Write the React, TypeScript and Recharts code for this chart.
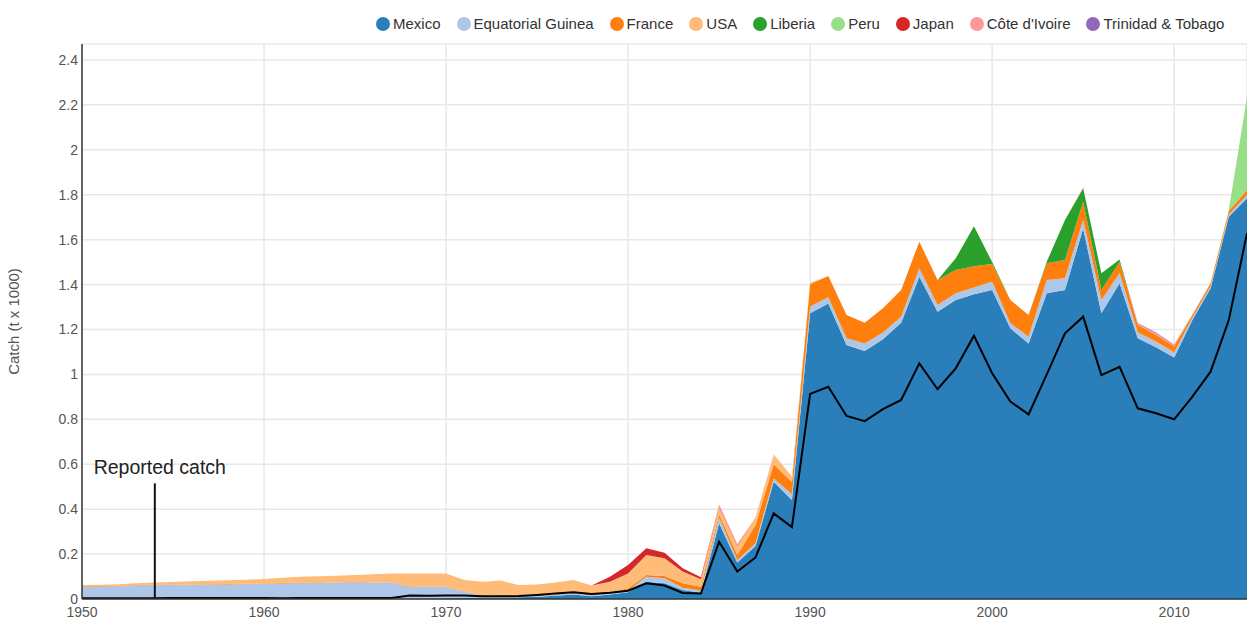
import React from 'react';
import {
  ComposedChart,
  Area,
  Line,
  XAxis,
  YAxis,
  CartesianGrid,
  ReferenceLine,
  Legend,
} from 'recharts';

const years = [
  1950, 1951, 1952, 1953, 1954, 1955, 1956, 1957, 1958, 1959,
  1960, 1961, 1962, 1963, 1964, 1965, 1966, 1967, 1968, 1969,
  1970, 1971, 1972, 1973, 1974, 1975, 1976, 1977, 1978, 1979,
  1980, 1981, 1982, 1983, 1984, 1985, 1986, 1987, 1988, 1989,
  1990, 1991, 1992, 1993, 1994, 1995, 1996, 1997, 1998, 1999,
  2000, 2001, 2002, 2003, 2004, 2005, 2006, 2007, 2008, 2009,
  2010, 2011, 2012, 2013, 2014,
];

const mexico = [
  0, 0, 0, 0, 0, 0, 0, 0, 0, 0,
  0, 0, 0, 0, 0, 0, 0, 0, 0.002, 0.002,
  0.003, 0.004, 0.004, 0.005, 0.008, 0.01, 0.014, 0.02, 0.012, 0.02,
  0.03, 0.077, 0.07, 0.04, 0.028, 0.337, 0.162, 0.236, 0.522, 0.441,
  1.272, 1.316, 1.131, 1.104, 1.156, 1.23, 1.435, 1.279, 1.331, 1.357,
  1.376, 1.205, 1.138, 1.361, 1.376, 1.65, 1.272, 1.406, 1.161, 1.121,
  1.075, 1.242, 1.383, 1.702, 1.784,
];

const equatorialGuinea = [
  0.055, 0.056, 0.057, 0.06, 0.062, 0.062, 0.063, 0.064, 0.065, 0.066,
  0.067, 0.069, 0.07, 0.071, 0.072, 0.075, 0.072, 0.073, 0.053, 0.052,
  0.049, 0.029, 0.008, 0.006, 0.004, 0.004, 0.004, 0.005, 0.004, 0.005,
  0.008, 0.022, 0.022, 0.01, 0.01, 0.025, 0.012, 0.012, 0.015, 0.025,
  0.03, 0.027, 0.03, 0.034, 0.03, 0.027, 0.037, 0.03, 0.03, 0.03,
  0.037, 0.023, 0.03, 0.059, 0.052, 0.037, 0.059, 0.044, 0.025, 0.025,
  0.022, 0.01, 0.01, 0.01, 0.015,
];

const france = [
  0.002, 0.002, 0.002, 0.002, 0.002, 0.002, 0.002, 0.002, 0.002, 0.002,
  0.002, 0.002, 0.002, 0.002, 0.002, 0.002, 0.002, 0.002, 0.002, 0.002,
  0.002, 0.002, 0.002, 0.002, 0.002, 0.002, 0.003, 0.003, 0.004, 0.005,
  0.01, 0.008, 0.01, 0.02, 0.017, 0.015, 0.022, 0.082, 0.063, 0.055,
  0.1, 0.095, 0.103, 0.092, 0.108, 0.119, 0.119, 0.111, 0.104, 0.095,
  0.079, 0.103, 0.096, 0.075, 0.081, 0.082, 0.045, 0.05, 0.035, 0.03,
  0.028, 0.012, 0.013, 0.015, 0.022,
];

const usa = [
  0.005, 0.006, 0.007, 0.008, 0.009, 0.012, 0.014, 0.015, 0.017, 0.018,
  0.02, 0.024, 0.027, 0.028, 0.029, 0.03, 0.036, 0.039, 0.057, 0.058,
  0.06, 0.05, 0.063, 0.069, 0.048, 0.049, 0.052, 0.057, 0.04, 0.047,
  0.066, 0.089, 0.079, 0.052, 0.033, 0.03, 0.04, 0.03, 0.04, 0.024,
  0.006, 0, 0, 0, 0, 0, 0, 0, 0, 0,
  0, 0, 0, 0, 0, 0, 0, 0, 0, 0,
  0, 0, 0, 0, 0,
];

const liberia = [
  0, 0, 0, 0, 0, 0, 0, 0, 0, 0,
  0, 0, 0, 0, 0, 0, 0, 0, 0, 0,
  0, 0, 0, 0, 0, 0, 0, 0, 0, 0,
  0, 0, 0, 0, 0, 0, 0, 0, 0, 0,
  0, 0, 0, 0, 0, 0, 0, 0, 0.052, 0.178,
  0.008, 0, 0, 0.007, 0.178, 0.06, 0.074, 0.012, 0, 0,
  0, 0, 0, 0, 0,
];

const peru = [
  0, 0, 0, 0, 0, 0, 0, 0, 0, 0,
  0, 0, 0, 0, 0, 0, 0, 0, 0, 0,
  0, 0, 0, 0, 0, 0, 0, 0, 0, 0,
  0, 0, 0, 0, 0, 0, 0, 0, 0, 0,
  0, 0, 0, 0, 0, 0, 0, 0, 0, 0,
  0, 0, 0, 0, 0, 0, 0, 0, 0, 0,
  0, 0, 0, 0.005, 0.415,
];

const japan = [
  0, 0, 0, 0, 0, 0, 0, 0, 0, 0,
  0, 0, 0, 0, 0, 0, 0, 0, 0, 0,
  0, 0, 0, 0, 0, 0, 0, 0, 0, 0.022,
  0.037, 0.03, 0.025, 0.015, 0.009, 0.004, 0.003, 0, 0, 0,
  0, 0, 0, 0, 0, 0, 0, 0, 0, 0,
  0, 0, 0, 0, 0, 0, 0, 0, 0, 0,
  0, 0, 0, 0, 0,
];

const coteDIvoire = [
  0, 0, 0, 0, 0, 0, 0, 0, 0, 0,
  0, 0, 0, 0, 0, 0, 0, 0, 0, 0,
  0, 0, 0, 0, 0, 0, 0, 0, 0, 0,
  0, 0, 0, 0, 0, 0.01, 0.006, 0.003, 0.003, 0,
  0, 0, 0, 0, 0, 0, 0, 0, 0, 0,
  0, 0, 0, 0, 0, 0.004, 0, 0, 0.006, 0.007,
  0.006, 0.003, 0, 0, 0,
];

const trinidadTobago = [
  0, 0, 0, 0, 0, 0, 0, 0, 0, 0,
  0, 0, 0, 0, 0, 0, 0, 0, 0, 0,
  0, 0, 0, 0, 0, 0, 0, 0, 0, 0,
  0, 0, 0, 0, 0, 0, 0, 0, 0, 0,
  0, 0, 0, 0, 0, 0, 0, 0, 0, 0,
  0, 0, 0, 0, 0, 0, 0, 0, 0.002, 0.003,
  0.002, 0, 0, 0, 0,
];

const reportedCatch = [
  0.003, 0.003, 0.003, 0.003, 0.003, 0.004, 0.004, 0.004, 0.004, 0.005,
  0.005, 0.003, 0.004, 0.004, 0.004, 0.004, 0.004, 0.005, 0.016, 0.014,
  0.016, 0.016, 0.012, 0.012, 0.013, 0.018, 0.024, 0.03, 0.022, 0.028,
  0.037, 0.07, 0.06, 0.027, 0.025, 0.255, 0.122, 0.185, 0.381, 0.32,
  0.913, 0.945, 0.815, 0.792, 0.845, 0.886, 1.049, 0.934, 1.027, 1.172,
  1.005, 0.879, 0.822, 1.0, 1.183, 1.257, 0.997, 1.034, 0.849, 0.827,
  0.8, 0.901, 1.012, 1.242, 1.628,
];

const xTicks = [1950, 1960, 1970, 1980, 1990, 2000, 2010];
const yTicks = [0, 0.2, 0.4, 0.6, 0.8, 1, 1.2, 1.4, 1.6, 1.8, 2, 2.2, 2.4];

const series = [
  { key: 'mexico', name: 'Mexico', color: '#2a7fba', values: mexico },
  { key: 'eqGuinea', name: 'Equatorial Guinea', color: '#aec7e8', values: equatorialGuinea },
  { key: 'france', name: 'France', color: '#ff7f0e', values: france },
  { key: 'usa', name: 'USA', color: '#ffbb78', values: usa },
  { key: 'liberia', name: 'Liberia', color: '#2ca02c', values: liberia },
  { key: 'peru', name: 'Peru', color: '#98df8a', values: peru },
  { key: 'japan', name: 'Japan', color: '#d62728', values: japan },
  { key: 'cote', name: "Côte d'Ivoire", color: '#ff9896', values: coteDIvoire },
  { key: 'tt', name: 'Trinidad & Tobago', color: '#9467bd', values: trinidadTobago },
];

const data = years.map((year, i) => {
  const row: Record<string, number> = { year, reported: reportedCatch[i] };
  series.forEach((s) => {
    row[s.key] = s.values[i];
  });
  return row;
});

const FONT = '"Liberation Sans", Arial, sans-serif';

const renderLegend = () => (
  <div style={{ display: 'flex', alignItems: 'center', fontFamily: FONT, fontSize: 15, color: '#333', whiteSpace: 'nowrap' }}>
    {series.map((s, i) => (
      <div key={s.key} style={{ display: 'flex', alignItems: 'center', marginRight: i === series.length - 1 ? 0 : 16 }}>
        <span
          style={{
            display: 'inline-block',
            width: 14,
            height: 14,
            borderRadius: '50%',
            background: s.color,
            marginRight: 3,
          }}
        />
        <span>{s.name}</span>
      </div>
    ))}
  </div>
);

export default function App() {
  return (
    <div style={{ position: 'absolute', left: 0, top: 0, fontFamily: FONT }}>
      <ComposedChart
        width={1247}
        height={619}
        data={data}
        margin={{ top: 44, right: 0, bottom: 0, left: 0 }}
      >
        <CartesianGrid stroke="#e8e8e8" strokeWidth={1.5} vertical horizontal />
        <XAxis
          dataKey="year"
          type="number"
          domain={[1950, 2014]}
          ticks={xTicks}
          height={20}
          tickLine={false}
          tickSize={0}
          tickMargin={8}
          axisLine={{ stroke: '#333', strokeWidth: 1.5 }}
          tick={{ fill: '#555', fontSize: 14, fontFamily: FONT }}
          interval={0}
        />
        <YAxis
          type="number"
          domain={[0, 2.471]}
          ticks={yTicks}
          width={82}
          tickLine={false}
          tickSize={0}
          tickMargin={4}
          axisLine={{ stroke: '#333', strokeWidth: 1.5 }}
          tick={{ fill: '#555', fontSize: 14, fontFamily: FONT }}
          interval={0}
          allowDataOverflow
          label={{
            value: 'Catch (t x 1000)',
            angle: -90,
            position: 'insideLeft',
            offset: 14,
            style: { textAnchor: 'middle', fill: '#555', fontSize: 15, fontFamily: FONT },
          }}
        />
        {series.map((s) => (
          <Area
            key={s.key}
            type="linear"
            dataKey={s.key}
            name={s.name}
            stackId="catch"
            fill={s.color}
            fillOpacity={1}
            stroke="none"
            isAnimationActive={false}
          />
        ))}
        <Line
          type="linear"
          dataKey="reported"
          name="Reported catch"
          stroke="#000"
          strokeWidth={2}
          dot={false}
          activeDot={false}
          legendType="none"
          isAnimationActive={false}
        />
        <ReferenceLine
          segment={[
            { x: 1954, y: 0 },
            { x: 1954, y: 0.515 },
          ]}
          stroke="#111"
          strokeWidth={2}
          label={{
            value: 'Reported catch',
            position: 'top',
            offset: 9,
            dx: 5,
            fill: '#222',
            fontSize: 19.5,
            fontFamily: FONT,
          }}
        />
        <Legend
          layout="vertical"
          align="center"
          verticalAlign="middle"
          content={renderLegend}
          wrapperStyle={{ top: 15, left: 376, width: 'auto', height: 'auto' }}
        />
      </ComposedChart>
    </div>
  );
}
